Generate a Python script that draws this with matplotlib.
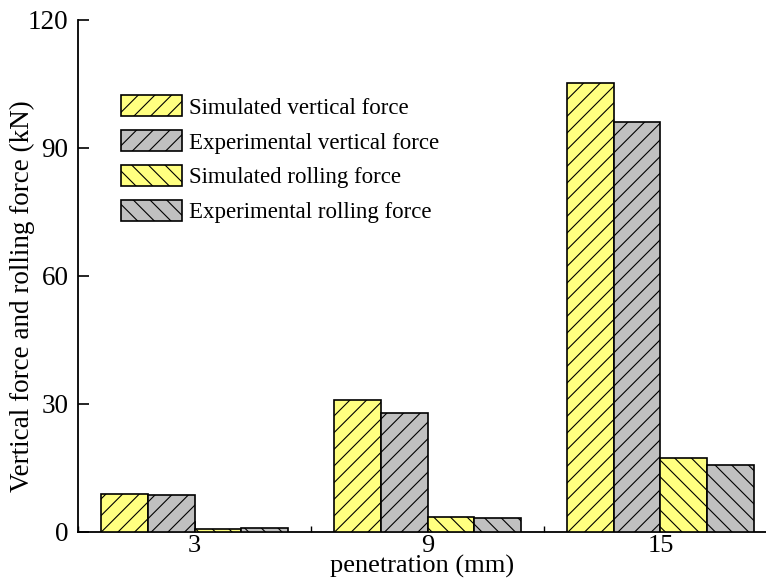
import matplotlib.pyplot as plt
import numpy as np
from matplotlib.ticker import MultipleLocator

plt.rcParams['font.family'] = ['Liberation Serif', 'DejaVu Serif']
plt.rcParams['hatch.linewidth'] = 0.8

penetration = [3, 9, 15]
sim_vertical = [8.9, 30.9, 105.2]
exp_vertical = [8.6, 27.9, 96.1]
sim_rolling = [0.7, 3.5, 17.3]
exp_rolling = [0.9, 3.3, 15.7]

labels = ['Simulated vertical force', 'Experimental vertical force',
          'Simulated rolling force', 'Experimental rolling force']
series = [sim_vertical, exp_vertical, sim_rolling, exp_rolling]
colors = ['#FFFF80', '#C0C0C0', '#FFFF80', '#C0C0C0']
hatches = ['//', '//', '\\\\', '\\\\']

fig = plt.figure(figsize=(7.66, 5.87), dpi=100)
ax = fig.add_axes([0.102, 0.094, 0.898, 0.872])

width = 1.2
x = np.array(penetration, dtype=float)
for i, (vals, lab, c, h) in enumerate(zip(series, labels, colors, hatches)):
    ax.bar(x + (i - 1.5) * width, vals, width, color=c, edgecolor='black',
           linewidth=1.2, hatch=h, label=lab, zorder=3)

ax.set_xlim(0, 17.72)
ax.set_ylim(0, 120)
ax.set_xticks(penetration)
ax.xaxis.set_minor_locator(MultipleLocator(6))
ax.set_yticks([0, 30, 60, 90, 120])
ax.tick_params(axis='both', which='major', direction='in', length=8, width=1.2,
               labelsize=19.5)
ax.tick_params(axis='y', which='major', pad=7)
ax.tick_params(axis='x', which='major', pad=2, labelsize=19)
ax.tick_params(axis='x', which='minor', direction='in', length=4, width=1)
ax.spines['top'].set_visible(False)
ax.spines['right'].set_visible(False)
ax.spines['left'].set_linewidth(1.3)
ax.spines['bottom'].set_linewidth(1.3)

ax.set_xlabel('penetration (mm)', fontsize=19, labelpad=-1)
ax.set_ylabel('Vertical force and rolling force (kN)', fontsize=19.5)
ax.yaxis.set_label_coords(-0.062, 0.461)

leg = ax.legend(loc='upper left', bbox_to_anchor=(0.062, 0.853), frameon=False,
                fontsize=16.5, handlelength=2.67, handleheight=1.05,
                handletextpad=0.3, labelspacing=0.5, borderaxespad=0,
                borderpad=0)

fig.savefig('out.png', dpi=100)
